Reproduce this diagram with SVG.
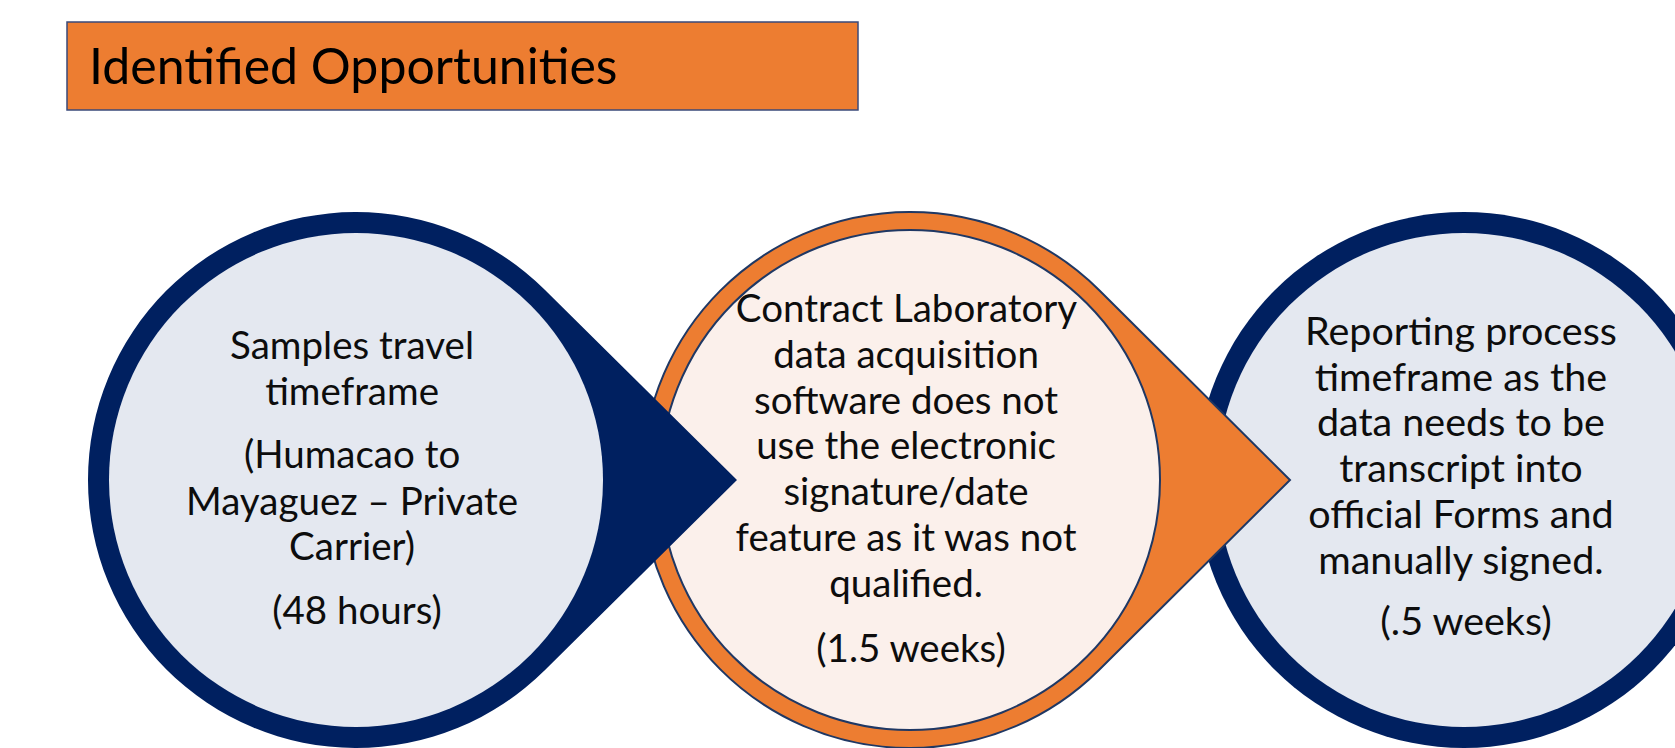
<svg xmlns="http://www.w3.org/2000/svg" width="1675" height="748" viewBox="0 0 1675 748">
  <style>
    .title { font-family: Lato, "Liberation Sans", sans-serif; font-size: 50px; fill: #000; }
    .body { font-family: Lato, "Liberation Sans", sans-serif; font-size: 38.5px; fill: #0d0d0d; text-anchor: middle; }
    .wide { font-size: 39.5px; }
    .navy { fill: #002060; }
    .pale { fill: #e4e8f0; }
    .orange { fill: #ed7d31; stroke: #1f3864; stroke-width: 2; }
    .blush { fill: #fbf0eb; stroke: #1f3864; stroke-width: 2; }
  </style>
  <rect width="1675" height="748" fill="#ffffff"/>

  <!-- heading banner -->
  <g id="heading">
    <rect x="67" y="22" width="791" height="88" fill="#ed7d31" stroke="#3a4a7a" stroke-width="1.5"/>
    <text class="title" x="89" y="84">Identified Opportunities</text>
  </g>

  <!-- third stage: plain ringed circle (drawn first so the orange point sits over it) -->
  <g id="reporting">
    <circle class="navy" cx="1464" cy="480" r="268"/>
    <circle class="pale" cx="1464" cy="480" r="247"/>
    <text class="body wide">
      <tspan x="1466" y="345">Reporting process</tspan>
      <tspan x="1466" y="391">timeframe as the</tspan>
      <tspan x="1466" y="436">data needs to be</tspan>
      <tspan x="1466" y="482">transcript into</tspan>
      <tspan x="1466" y="528">official Forms and</tspan>
      <tspan x="1466" y="574">manually signed.</tspan>
      <tspan x="1466" y="635">(.5 weeks)</tspan>
    </text>
  </g>

  <!-- second stage: orange teardrop pointing right -->
  <g id="contract-lab">
    <path class="orange" d="M1099 290 L1290 480 L1099 670 A268 268 0 1 1 1099 290 Z"/>
    <circle class="blush" cx="910" cy="480" r="250"/>
    <text class="body">
      <tspan x="911" y="322">Contract Laboratory</tspan>
      <tspan x="911" y="368">data acquisition</tspan>
      <tspan x="911" y="414">software does not</tspan>
      <tspan x="911" y="459">use the electronic</tspan>
      <tspan x="911" y="505">signature/date</tspan>
      <tspan x="911" y="551">feature as it was not</tspan>
      <tspan x="911" y="597">qualified.</tspan>
      <tspan x="911" y="662">(1.5 weeks)</tspan>
    </text>
  </g>

  <!-- first stage: navy teardrop pointing right -->
  <g id="samples-travel">
    <path class="navy" d="M544.5 289.5 L737 480 L544.5 670.5 A268 268 0 1 1 544.5 289.5 Z"/>
    <circle class="pale" cx="356" cy="480" r="247"/>
    <text class="body">
      <tspan x="357" y="359">Samples travel</tspan>
      <tspan x="357" y="405">timeframe</tspan>
      <tspan x="357" y="468">(Humacao to</tspan>
      <tspan x="357" y="515">Mayaguez – Private</tspan>
      <tspan x="357" y="560">Carrier)</tspan>
      <tspan x="357" y="624">(48 hours)</tspan>
    </text>
  </g>
</svg>
